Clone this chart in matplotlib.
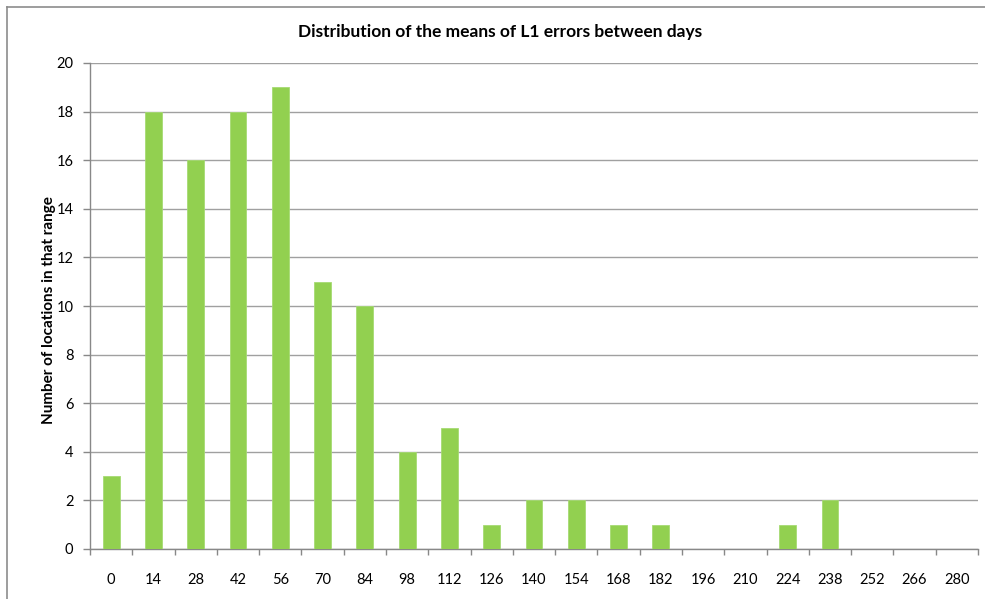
import matplotlib

matplotlib.use("Agg")

import numpy as np
import matplotlib.pyplot as plt
from matplotlib.lines import Line2D

# Histogram of mean L1 errors between days (bin starts, counts per bin)
bin_labels = [str(v) for v in range(0, 281, 14)]
counts = [3, 18, 16, 18, 19, 11, 10, 4, 5, 1, 2, 2, 1, 1, 0, 0, 1, 2, 0, 0, 0]
y_ticks = list(range(0, 21, 2))

plt.rcParams["font.family"] = ["Lato", "DejaVu Sans"]

W, H = 985, 599
fig = plt.figure(figsize=(W / 100, H / 100), dpi=100)

# plot area in pixel coordinates
left, right, top, bottom = 90, 978, 63, 549
ax = fig.add_axes([left / W, 1 - bottom / H, (right - left) / W, (bottom - top) / H])

x = np.arange(len(counts))
ax.bar(x, counts, width=0.4, color="#92D050", edgecolor="#A6DA73", linewidth=0.6, zorder=3)

ax.set_xlim(-0.5, len(counts) - 0.5)
ax.set_ylim(0, 20)
ax.set_yticks(y_ticks)
ax.set_yticklabels([str(v) for v in y_ticks], fontsize=10.5)
ax.yaxis.grid(True, color="#A0A0A0", linewidth=1.0, zorder=0)

# category labels centred, tick marks between categories
ax.set_xticks(x)
ax.set_xticklabels(bin_labels, fontsize=10.5)
ax.tick_params(axis="x", length=0, pad=17)
ax.set_xticks(np.arange(-0.5, len(counts)), minor=True)
ax.tick_params(axis="x", which="minor", length=4, color="#888888", width=1)
ax.tick_params(axis="y", length=5, color="#888888", width=1, pad=7)

for side in ["top", "right"]:
    ax.spines[side].set_visible(False)
for side in ["left", "bottom"]:
    ax.spines[side].set_color("#888888")
    ax.spines[side].set_linewidth(1)

fig.text(49 / W, 1 - 310 / H, "Number of locations in that range", rotation=90,
         ha="center", va="center", fontsize=11, fontweight="bold")
fig.text(500 / W, 1 - 32 / H, "Distribution of the means of L1 errors between days",
         ha="center", va="center", fontsize=12.5, fontweight="bold")

# chart frame (top and left edges)
fig.add_artist(Line2D([7 / W, 1], [1 - 7 / H, 1 - 7 / H], color="#8C8C8C", linewidth=1.2))
fig.add_artist(Line2D([7 / W, 7 / W], [0, 1 - 7 / H], color="#8C8C8C", linewidth=1.2))

fig.savefig("out.png", dpi=100)
